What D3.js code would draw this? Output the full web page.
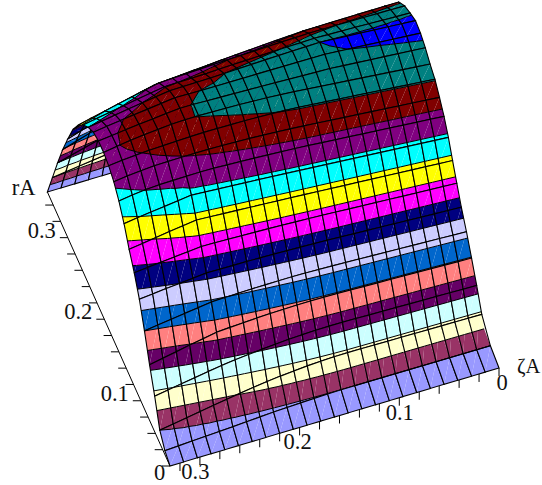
<!DOCTYPE html>
<html>

<head>
  <title>rA surface</title>
  <script src="https://d3js.org/d3.v7.min.js"></script>
  <style>
    body {
      margin: 0;
      background-color: white;
    }

    text {
      font-family: "Liberation Serif", serif;
      font-size: 22.5px;
      fill: #111;
    }
  </style>
</head>

<body>
  <svg id="chart"></svg>

  <script type="text/javascript">
    var width = 542;
    var height = 485;

    // grid of the surface
    const zetaGrid = [0, .0138, .0275, .0413, .055, .0688, .0825, .0963, .11, .1238, .1375, .1513, .165, .1788, .1925, .2063, .22, .2338, .2475, .2613, .275, .2888, .3025, .3163, .33];
    const rGrid = [.02, .034, .048, .062, .076, .09, .104, .118, .132, .146, .16, .174, .188, .202, .216, .23, .244, .258, .272, .286, .3, .314, .328, .342, .356];

    const surface = [
      [0, 1, 2.85, 4.47, 5.95, 7.33, 8.54, 9.7, 10.75, 11.84, 12.73, 13.43, 14.05, 14.4, 14.85, 15.15, 15.25, 14.9, 14.5, 13.8, 12.5, 10.3, 7.4, 3.6, 0],
      [0, 1, 2.85, 4.47, 5.95, 7.33, 8.54, 9.7, 10.75, 11.84, 12.73, 13.43, 14.05, 14.4, 14.83, 15.12, 15.21, 14.82, 14.4, 13.69, 12.37, 10.2, 7.33, 3.57, 0],
      [0, 1, 2.85, 4.47, 5.95, 7.33, 8.54, 9.7, 10.75, 11.84, 12.73, 13.43, 14.05, 14.4, 14.81, 15.09, 15.18, 14.74, 14.3, 13.57, 12.24, 10.1, 7.26, 3.54, 0],
      [0, 1, 2.85, 4.47, 5.95, 7.33, 8.54, 9.7, 10.75, 11.84, 12.73, 13.43, 14.05, 14.4, 14.79, 15.06, 15.14, 14.66, 14.2, 13.46, 12.11, 10, 7.19, 3.51, 0],
      [0, 1, 2.85, 4.47, 5.95, 7.33, 8.54, 9.7, 10.75, 11.84, 12.73, 13.43, 14.05, 14.4, 14.76, 15.04, 15.11, 14.59, 14.1, 13.34, 11.99, 9.9, 7.11, 3.49, 0],
      [0, 1, 2.85, 4.47, 5.95, 7.33, 8.54, 9.7, 10.75, 11.84, 12.73, 13.43, 14.05, 14.4, 14.74, 15.01, 15.07, 14.51, 14, 13.23, 11.86, 9.8, 7.04, 3.46, 0],
      [0, 1, 2.85, 4.47, 5.95, 7.33, 8.54, 9.7, 10.75, 11.84, 12.73, 13.43, 14.05, 14.4, 14.72, 14.98, 15.04, 14.43, 13.9, 13.11, 11.73, 9.7, 6.97, 3.43, 0],
      [0, 1, 2.85, 4.47, 5.95, 7.33, 8.54, 9.7, 10.75, 11.84, 12.73, 13.43, 14.05, 14.4, 14.7, 14.95, 15, 14.35, 13.8, 13, 11.6, 9.6, 6.9, 3.4, 0],
      [0, 1, 2.85, 4.47, 5.95, 7.33, 8.54, 9.7, 10.75, 11.84, 12.73, 13.43, 14.05, 14.4, 14.63, 14.84, 14.86, 14.21, 13.66, 12.84, 11.44, 9.46, 6.8, 3.35, 0],
      [0, 1, 2.85, 4.47, 5.95, 7.33, 8.54, 9.7, 10.75, 11.84, 12.73, 13.43, 14.05, 14.4, 14.56, 14.74, 14.71, 14.08, 13.53, 12.68, 11.28, 9.33, 6.7, 3.3, 0],
      [0, 1, 2.85, 4.47, 5.95, 7.33, 8.54, 9.7, 10.75, 11.84, 12.73, 13.43, 14.05, 14.4, 14.49, 14.63, 14.57, 13.94, 13.39, 12.51, 11.11, 9.19, 6.6, 3.25, 0],
      [0, .99, 2.82, 4.45, 5.93, 7.32, 8.53, 9.69, 10.75, 11.84, 12.72, 13.42, 14.02, 14.38, 14.43, 14.53, 14.43, 13.8, 13.25, 12.35, 10.95, 9.05, 6.5, 3.2, 0],
      [0, .97, 2.77, 4.41, 5.91, 7.3, 8.52, 9.68, 10.75, 11.84, 12.7, 13.4, 13.98, 14.35, 14.36, 14.42, 14.28, 13.66, 13.11, 12.19, 10.79, 8.91, 6.4, 3.15, 0],
      [0, .94, 2.7, 4.35, 5.87, 7.27, 8.5, 9.67, 10.74, 11.83, 12.68, 13.37, 13.92, 14.3, 14.29, 14.31, 14.14, 13.53, 12.98, 12.03, 10.63, 8.78, 6.3, 3.1, 0],
      [0, .9, 2.6, 4.27, 5.81, 7.22, 8.48, 9.65, 10.74, 11.83, 12.65, 13.33, 13.85, 14.25, 14.22, 14.21, 13.99, 13.39, 12.84, 11.86, 10.46, 8.64, 6.2, 3.05, 0],
      [0, .85, 2.49, 4.17, 5.75, 7.17, 8.45, 9.63, 10.73, 11.82, 12.62, 13.28, 13.77, 14.18, 14.15, 14.1, 13.85, 13.25, 12.7, 11.7, 10.3, 8.5, 6.1, 3, 0],
      [0, .8, 2.36, 4.07, 5.68, 7.12, 8.42, 9.6, 10.73, 11.81, 12.58, 13.22, 13.68, 14.1, 14.08, 14.02, 13.73, 13.13, 12.57, 11.53, 10.17, 8.37, 6, 2.95, 0],
      [0, .74, 2.21, 3.94, 5.59, 7.05, 8.38, 9.57, 10.72, 11.8, 12.55, 13.16, 13.6, 14.03, 14.02, 13.93, 13.62, 13.02, 12.43, 11.37, 10.03, 8.23, 5.9, 2.9, 0],
      [0, .67, 2.05, 3.81, 5.5, 6.98, 8.34, 9.54, 10.71, 11.79, 12.47, 13.07, 13.48, 13.92, 13.93, 13.85, 13.5, 12.9, 12.3, 11.2, 9.9, 8.1, 5.8, 2.85, 0],
      [0, .6, 1.87, 3.66, 5.4, 6.9, 8.3, 9.5, 10.7, 11.78, 12.38, 12.97, 13.35, 13.78, 13.74, 13.63, 13.25, 12.63, 11.98, 10.87, 9.52, 7.73, 5.5, 2.71, 0],
      [0, .54, 1.7, 3.48, 5.17, 6.72, 8.15, 9.34, 10.49, 11.57, 12.28, 12.87, 13.22, 13.6, 13.53, 13.4, 13, 12.37, 11.67, 10.53, 9.13, 7.37, 5.2, 2.57, 0],
      [0, .48, 1.52, 3.29, 4.95, 6.54, 8, 9.19, 10.28, 11.36, 12.17, 12.76, 13.08, 13.4, 13.33, 13.18, 12.75, 12.1, 11.35, 10.2, 8.75, 7, 4.9, 2.43, 0],
      [0, .42, 1.35, 3.11, 4.72, 6.36, 7.86, 9.03, 10.06, 11.16, 12.03, 12.6, 12.93, 13.2, 13.12, 12.95, 12.5, 11.83, 11.03, 9.87, 8.37, 6.63, 4.6, 2.29, 0],
      [0, .36, 1.17, 2.92, 4.5, 6.18, 7.71, 8.88, 9.85, 10.95, 11.83, 12.42, 12.75, 12.95, 12.91, 12.73, 12.25, 11.57, 10.72, 9.53, 7.98, 6.27, 4.3, 2.14, 0],
      [0, .3, 1, 2.74, 4.27, 6, 7.56, 8.72, 9.64, 10.74, 11.6, 12.2, 12.55, 12.7, 12.7, 12.5, 12, 11.3, 10.4, 9.2, 7.6, 5.9, 4, 2, 0]
    ];

    // contour levels and the colour of each band
    const levels = [1, 2, 3, 4, 5, 6, 7, 8, 9, 10, 11, 12, 13, 14, 15];
    const bandColors = ["#9999ff", "#993366", "#ffffcc", "#ccffff", "#660066", "#ff8080", "#0066cc", "#ccccff", "#000080", "#ff00ff", "#ffff00", "#00ffff", "#800080", "#800000", "#008080", "#0000ff"];

    const zetaTicks = [0, .02, .04, .06, .08, .1, .12, .14, .16, .18, .2, .22, .24, .26, .28, .3, .32];
    const zetaLabels = [0, .1, .2, .3];
    const rTicks = [.02, .04, .06, .08, .1, .12, .14, .16, .18, .2, .22, .24, .26, .28, .3, .32, .34];
    const rLabels = [0, .1, .2, .3];

    var svg = d3.select("#chart").attr("width", width).attr("height", height).style("display", "block");

    // oblique projection, one scale per screen direction of each axis
    const zetaX = d3.scaleLinear().domain([0, .33]).range([499, 170]);
    const zetaY = d3.scaleLinear().domain([0, .33]).range([368, 466]);
    const rX = d3.scaleLinear().domain([.02, .356]).range([0, -122.6]);
    const rY = d3.scaleLinear().domain([.02, .356]).range([0, -274]);
    const rise = d3.scaleLinear().domain([0, .33]).range([10.8, 13]);
    // the side at zeta = 0 leans in a little as it climbs
    const lean = d3.scaleLinear().domain([0, 2, 9, 15]).range([0, -7, -7, -2]);
    const leanFade = d3.scaleLinear().domain([0, .33]).range([1, 0]);

    const project = (p) => [
      zetaX(p[0]) + rX(p[1]) + lean(p[2]) * leanFade(p[0]),
      zetaY(p[0]) + rY(p[1]) - rise(p[0]) * p[2]
    ];
    const polygon = d3.line().curve(d3.curveLinearClosed);
    const toPath = (pts) => polygon(pts.map(project));

    const mix = (a, b, level) => {
      const t = (level - a[2]) / (b[2] - a[2]);
      return [a[0] + t * (b[0] - a[0]), a[1] + t * (b[1] - a[1]), level];
    };

    // keep the part of a polygon on one side of a height level
    const clip = (pts, level, above) => {
      const keep = (p) => above ? p[2] >= level : p[2] <= level;
      const out = [];
      pts.forEach((p, n) => {
        const q = pts[(n + 1) % pts.length];
        if (keep(p)) out.push(p);
        if (keep(p) !== keep(q)) out.push(mix(p, q, level));
      });
      return out;
    };

    const bandPieces = (tri) => {
      const pieces = [];
      bandColors.forEach((color, k) => {
        let pts = tri;
        if (k > 0) pts = clip(pts, levels[k - 1], true);
        if (k < levels.length && pts.length) pts = clip(pts, levels[k], false);
        if (pts.length > 2) pieces.push({ d: toPath(pts), color: color });
      });
      return pieces;
    };

    const contourSegments = (tri) => {
      const segs = [];
      levels.forEach(level => {
        const hits = [];
        tri.forEach((p, n) => {
          const q = tri[(n + 1) % 3];
          if ((p[2] < level) !== (q[2] < level)) hits.push(project(mix(p, q, level)));
        });
        if (hits.length === 2) segs.push(hits);
      });
      return segs;
    };

    // back rows first, front rows paint over them
    const cells = [];
    for (let j = rGrid.length - 2; j >= 0; j--) {
      for (let i = zetaGrid.length - 2; i >= 0; i--) {
        const v = (a, b) => [zetaGrid[a], rGrid[b], surface[a][b]];
        const triA = [v(i + 1, j), v(i, j), v(i, j + 1)];
        const triB = [v(i + 1, j), v(i, j + 1), v(i + 1, j + 1)];
        cells.push({
          pieces: bandPieces(triA).concat(bandPieces(triB)),
          segments: contourSegments(triA).concat(contourSegments(triB)),
          outline: toPath([v(i, j), v(i + 1, j), v(i + 1, j + 1), v(i, j + 1)])
        });
      }
    }

    // axes go under the surface
    const ground = svg.append("g");
    const axisLine = d3.line();

    ground.append("path")
      .attr("d", axisLine([project([.33, .02, 0]), project([.33, .356, 0])]))
      .attr("stroke", "black").attr("fill", "none");

    ground.selectAll(".r-tick").data(rTicks).join("line")
      .attr("class", "r-tick")
      .attr("x1", d => project([.33, d, 0])[0])
      .attr("y1", d => project([.33, d, 0])[1])
      .attr("x2", d => project([.33, d, 0])[0] - 8)
      .attr("y2", d => project([.33, d, 0])[1])
      .attr("stroke", "black");

    ground.selectAll(".zeta-tick").data(zetaTicks).join("line")
      .attr("class", "zeta-tick")
      .attr("x1", d => project([d, .02, 0])[0])
      .attr("y1", d => project([d, .02, 0])[1])
      .attr("x2", d => project([d, .02, 0])[0])
      .attr("y2", d => project([d, .02, 0])[1] + 8)
      .attr("stroke", "black");

    var cell = svg.append("g").selectAll("g").data(cells).join("g");

    cell.selectAll(".piece").data(d => d.pieces).join("path")
      .attr("class", "piece")
      .attr("d", d => d.d)
      .attr("fill", d => d.color);

    cell.selectAll(".contour").data(d => d.segments).join("path")
      .attr("class", "contour")
      .attr("d", d => axisLine(d))
      .attr("stroke", "black").attr("stroke-width", 1).attr("fill", "none");

    cell.append("path")
      .attr("d", d => d.outline)
      .attr("stroke", "black").attr("stroke-width", 1.1).attr("fill", "none");

    // tick labels and axis titles
    svg.append("g").selectAll("text").data(rLabels).join("text")
      .attr("x", d => project([.33, d, 0])[0] - 12)
      .attr("y", d => Math.min(project([.33, d, 0])[1], 480))
      .attr("text-anchor", "end")
      .text(d => d);

    svg.append("g").selectAll("text").data(zetaLabels).join("text")
      .attr("x", d => project([d, .02, 0])[0] + 3 - 25 * d)
      .attr("y", d => project([d, .02, 0])[1] + 22)
      .attr("text-anchor", "middle")
      .text(d => d);

    svg.append("text")
      .attr("x", project([.33, .356, 0])[0] - 12)
      .attr("y", project([.33, .356, 0])[1] + 3)
      .attr("text-anchor", "end")
      .text("rA");

    svg.append("text")
      .attr("x", project([0, .02, 0])[0] + 18)
      .attr("y", project([0, .02, 0])[1] + 5)
      .style("font-size", "20.5px")
      .text("ζA");
  </script>
</body>

</html>
